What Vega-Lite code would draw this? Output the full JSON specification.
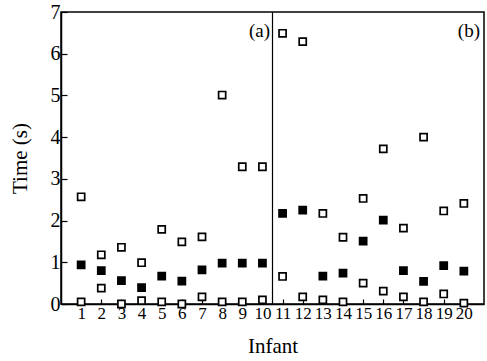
{
  "$schema": "https://vega.github.io/schema/vega-lite/v6.json",
  "width": 423,
  "height": 292,
  "autosize": "none",
  "padding": {"left": 61, "top": 12, "right": 3, "bottom": 57},
  "background": "white",
  "config": {
    "font": "Liberation Serif",
    "view": {"stroke": "black", "strokeWidth": 1.5},
    "axis": {
      "domainColor": "black",
      "domainWidth": 1.5,
      "tickColor": "black",
      "tickWidth": 1.2,
      "grid": false,
      "labelColor": "black",
      "titleColor": "black",
      "labelFont": "Liberation Serif",
      "titleFont": "Liberation Serif",
      "titleFontWeight": "normal"
    }
  },
  "layer": [
    {
      "data": {"values": [{}]},
      "mark": {"type": "rule", "color": "black", "strokeWidth": 1.2},
      "encoding": {
        "x": {"datum": 10.5, "type": "quantitative", "scale": {"domain": [0, 21], "nice": false},
          "axis": {"title": "Infant", "values": [1, 2, 3, 4, 5, 6, 7, 8, 9, 10, 11, 12, 13, 14, 15, 16, 17, 18, 19, 20], "format": "d", "labelOverlap": false, "labelFlush": false, "tickSize": -5, "labelPadding": 6, "labelFontSize": 17, "titleFontSize": 21, "titlePadding": 14}},
        "y": {"datum": 0, "type": "quantitative", "scale": {"domain": [0, 7], "nice": false},
          "axis": {"title": "Time (s)", "values": [0, 1, 2, 3, 4, 5, 6, 7], "labelOverlap": false, "labelFlush": false, "tickSize": -6, "labelPadding": 7, "labelFontSize": 20, "titleFontSize": 21, "titlePadding": 20}},
        "y2": {"datum": 7}
      }
    },
    {
      "data": {"values": [{}]},
      "mark": {"type": "text", "text": "(a)", "align": "right", "baseline": "middle", "fontSize": 19, "font": "Liberation Serif", "fill": "black"},
      "encoding": {
        "x": {"datum": 10.38, "type": "quantitative", "scale": {"domain": [0, 21], "nice": false},
          "axis": {"title": "Infant", "values": [1, 2, 3, 4, 5, 6, 7, 8, 9, 10, 11, 12, 13, 14, 15, 16, 17, 18, 19, 20], "format": "d", "labelOverlap": false, "labelFlush": false, "tickSize": -5, "labelPadding": 6, "labelFontSize": 17, "titleFontSize": 21, "titlePadding": 14}},
        "y": {"datum": 6.55, "type": "quantitative", "scale": {"domain": [0, 7], "nice": false},
          "axis": {"title": "Time (s)", "values": [0, 1, 2, 3, 4, 5, 6, 7], "labelOverlap": false, "labelFlush": false, "tickSize": -6, "labelPadding": 7, "labelFontSize": 20, "titleFontSize": 21, "titlePadding": 20}}
      }
    },
    {
      "data": {"values": [{}]},
      "mark": {"type": "text", "text": "(b)", "align": "right", "baseline": "middle", "fontSize": 19, "font": "Liberation Serif", "fill": "black"},
      "encoding": {
        "x": {"datum": 20.8, "type": "quantitative", "scale": {"domain": [0, 21], "nice": false},
          "axis": {"title": "Infant", "values": [1, 2, 3, 4, 5, 6, 7, 8, 9, 10, 11, 12, 13, 14, 15, 16, 17, 18, 19, 20], "format": "d", "labelOverlap": false, "labelFlush": false, "tickSize": -5, "labelPadding": 6, "labelFontSize": 17, "titleFontSize": 21, "titlePadding": 14}},
        "y": {"datum": 6.55, "type": "quantitative", "scale": {"domain": [0, 7], "nice": false},
          "axis": {"title": "Time (s)", "values": [0, 1, 2, 3, 4, 5, 6, 7], "labelOverlap": false, "labelFlush": false, "tickSize": -6, "labelPadding": 7, "labelFontSize": 20, "titleFontSize": 21, "titlePadding": 20}}
      }
    },
    {
      "data": {
        "values": [
          {"infant": 1, "time": 2.57, "series": "upper"},
          {"infant": 1, "time": 0.94, "series": "middle"},
          {"infant": 1, "time": 0.05, "series": "lower"},
          {"infant": 2, "time": 1.18, "series": "upper"},
          {"infant": 2, "time": 0.8, "series": "middle"},
          {"infant": 2, "time": 0.38, "series": "lower"},
          {"infant": 3, "time": 1.36, "series": "upper"},
          {"infant": 3, "time": 0.56, "series": "middle"},
          {"infant": 3, "time": 0.0, "series": "lower"},
          {"infant": 4, "time": 0.99, "series": "upper"},
          {"infant": 4, "time": 0.39, "series": "middle"},
          {"infant": 4, "time": 0.08, "series": "lower"},
          {"infant": 5, "time": 1.79, "series": "upper"},
          {"infant": 5, "time": 0.67, "series": "middle"},
          {"infant": 5, "time": 0.05, "series": "lower"},
          {"infant": 6, "time": 1.49, "series": "upper"},
          {"infant": 6, "time": 0.55, "series": "middle"},
          {"infant": 6, "time": 0.0, "series": "lower"},
          {"infant": 7, "time": 1.61, "series": "upper"},
          {"infant": 7, "time": 0.82, "series": "middle"},
          {"infant": 7, "time": 0.17, "series": "lower"},
          {"infant": 8, "time": 5.01, "series": "upper"},
          {"infant": 8, "time": 0.98, "series": "middle"},
          {"infant": 8, "time": 0.05, "series": "lower"},
          {"infant": 9, "time": 3.29, "series": "upper"},
          {"infant": 9, "time": 0.98, "series": "middle"},
          {"infant": 9, "time": 0.05, "series": "lower"},
          {"infant": 10, "time": 3.29, "series": "upper"},
          {"infant": 10, "time": 0.98, "series": "middle"},
          {"infant": 10, "time": 0.1, "series": "lower"},
          {"infant": 11, "time": 6.49, "series": "upper"},
          {"infant": 11, "time": 2.17, "series": "middle"},
          {"infant": 11, "time": 0.66, "series": "lower"},
          {"infant": 12, "time": 6.29, "series": "upper"},
          {"infant": 12, "time": 2.25, "series": "middle"},
          {"infant": 12, "time": 0.17, "series": "lower"},
          {"infant": 13, "time": 2.17, "series": "upper"},
          {"infant": 13, "time": 0.67, "series": "middle"},
          {"infant": 13, "time": 0.1, "series": "lower"},
          {"infant": 14, "time": 1.6, "series": "upper"},
          {"infant": 14, "time": 0.74, "series": "middle"},
          {"infant": 14, "time": 0.05, "series": "lower"},
          {"infant": 15, "time": 2.53, "series": "upper"},
          {"infant": 15, "time": 1.51, "series": "middle"},
          {"infant": 15, "time": 0.5, "series": "lower"},
          {"infant": 16, "time": 3.72, "series": "upper"},
          {"infant": 16, "time": 2.01, "series": "middle"},
          {"infant": 16, "time": 0.31, "series": "lower"},
          {"infant": 17, "time": 1.82, "series": "upper"},
          {"infant": 17, "time": 0.8, "series": "middle"},
          {"infant": 17, "time": 0.17, "series": "lower"},
          {"infant": 18, "time": 4.0, "series": "upper"},
          {"infant": 18, "time": 0.54, "series": "middle"},
          {"infant": 18, "time": 0.05, "series": "lower"},
          {"infant": 19, "time": 2.23, "series": "upper"},
          {"infant": 19, "time": 0.92, "series": "middle"},
          {"infant": 19, "time": 0.24, "series": "lower"},
          {"infant": 20, "time": 2.41, "series": "upper"},
          {"infant": 20, "time": 0.79, "series": "middle"},
          {"infant": 20, "time": 0.02, "series": "lower"}
        ]
      },
      "mark": {"type": "point", "shape": "square", "size": 50, "strokeWidth": 1.7, "opacity": 1},
      "encoding": {
        "x": {"field": "infant", "type": "quantitative", "scale": {"domain": [0, 21], "nice": false},
          "axis": {"title": "Infant", "values": [1, 2, 3, 4, 5, 6, 7, 8, 9, 10, 11, 12, 13, 14, 15, 16, 17, 18, 19, 20], "format": "d", "labelOverlap": false, "labelFlush": false, "tickSize": -5, "labelPadding": 6, "labelFontSize": 17, "titleFontSize": 21, "titlePadding": 14}},
        "y": {"field": "time", "type": "quantitative", "scale": {"domain": [0, 7], "nice": false},
          "axis": {"title": "Time (s)", "values": [0, 1, 2, 3, 4, 5, 6, 7], "labelOverlap": false, "labelFlush": false, "tickSize": -6, "labelPadding": 7, "labelFontSize": 20, "titleFontSize": 21, "titlePadding": 20}},
        "color": {"value": "black"},
        "fill": {
          "field": "series",
          "type": "nominal",
          "scale": {"domain": ["upper", "middle", "lower"], "range": ["white", "black", "white"]},
          "legend": null
        }
      }
    }
  ]
}
